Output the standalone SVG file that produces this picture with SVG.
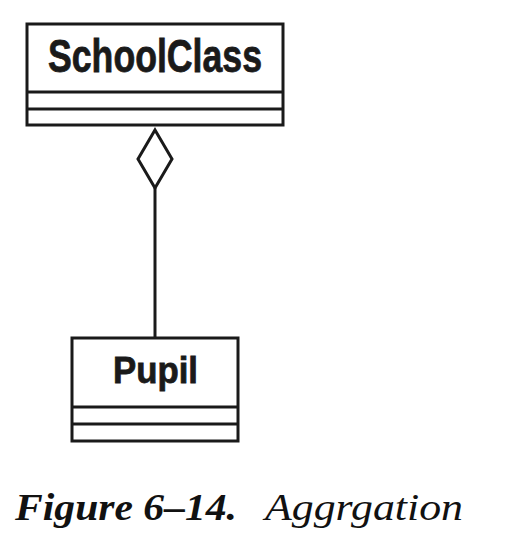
<svg xmlns="http://www.w3.org/2000/svg" width="516" height="554" viewBox="0 0 516 554">
<style>
.box{fill:#fff;stroke:#1a1a1a;stroke-width:3}
.div{stroke:#1a1a1a;stroke-width:3}
.name{font-family:"Liberation Sans","DejaVu Sans",sans-serif;font-weight:bold;fill:#1a1a1a;stroke:#1a1a1a;stroke-width:0.8}
.cap{font-family:"Liberation Serif","DejaVu Serif",serif;font-style:italic;fill:#111}
</style>
<rect width="516" height="554" fill="#fff"/>
<g id="connectors">
<line x1="155" y1="188" x2="155" y2="338" class="div"/>
<polygon points="155,130 172,159 155,188 138,159" class="box"/>
</g>
<g id="SchoolClass">
<rect x="27" y="24" width="256" height="101" class="box"/>
<line x1="27" y1="92" x2="283" y2="92" class="div"/>
<line x1="27" y1="109" x2="283" y2="109" class="div"/>
<text x="48" y="72" class="name" font-size="47" textLength="214" lengthAdjust="spacingAndGlyphs">SchoolClass</text>
</g>
<g id="Pupil">
<rect x="72" y="338" width="166" height="103" class="box"/>
<line x1="72" y1="407" x2="238" y2="407" class="div"/>
<line x1="72" y1="424" x2="238" y2="424" class="div"/>
<text x="113" y="383" class="name" font-size="37" textLength="85" lengthAdjust="spacingAndGlyphs">Pupil</text>
</g>
<g id="caption">
<text x="15" y="520" class="cap" font-weight="bold" font-size="38" textLength="222" lengthAdjust="spacingAndGlyphs">Figure 6–14.</text>
<text x="265" y="520" class="cap" font-size="38" textLength="198" lengthAdjust="spacingAndGlyphs">Aggrgation</text>
</g>
</svg>
